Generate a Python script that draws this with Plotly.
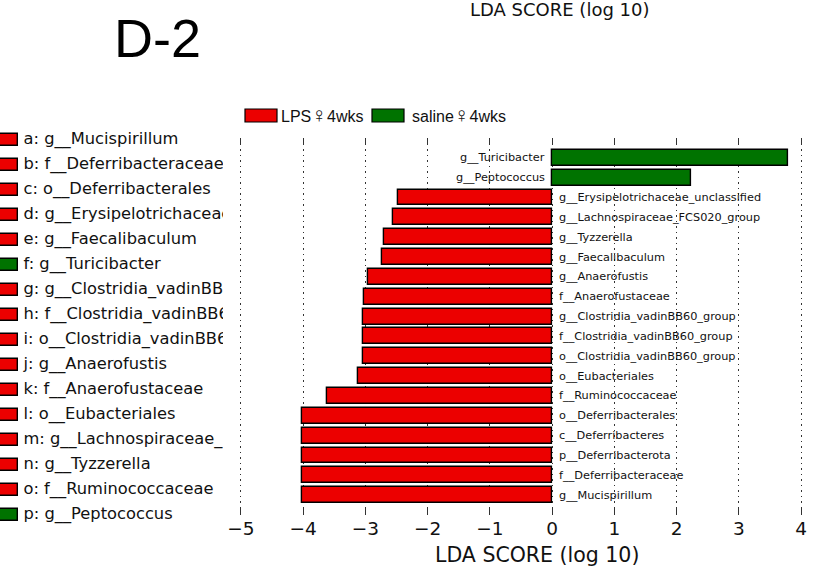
import plotly.graph_objects as go

# LEfSe results: features ordered top to bottom, LDA score (log 10)
features = [
    "g__Turicibacter", "g__Peptococcus", "g__Erysipelotrichaceae_unclassified",
    "g__Lachnospiraceae_FCS020_group", "g__Tyzzerella", "g__Faecalibaculum",
    "g__Anaerofustis", "f__Anaerofustaceae", "g__Clostridia_vadinBB60_group",
    "f__Clostridia_vadinBB60_group", "o__Clostridia_vadinBB60_group",
    "o__Eubacteriales", "f__Ruminococcaceae", "o__Deferribacterales",
    "c__Deferribacteres", "p__Deferribacterota", "f__Deferribacteraceae",
    "g__Mucispirillum",
]
lda_scores = [3.80, 2.23, -2.48, -2.56, -2.70, -2.73, -2.96, -3.02, -3.03,
              -3.03, -3.03, -3.11, -3.61, -4.02, -4.02, -4.02, -4.02, -4.02]

groups = ["LPS\u26404wks", "saline\u26404wks"]
group_colors = {"LPS\u26404wks": "#EC0000", "saline\u26404wks": "#007300"}

# cladogram key (letter labels)
key_letters = list("abcdefghijklmnop")
key_names = [
    "g__Mucispirillum", "f__Deferribacteraceae", "o__Deferribacterales",
    "g__Erysipelotrichaceae_unclassified", "g__Faecalibaculum", "g__Turicibacter",
    "g__Clostridia_vadinBB60_group", "f__Clostridia_vadinBB60_group",
    "o__Clostridia_vadinBB60_group", "g__Anaerofustis", "f__Anaerofustaceae",
    "o__Eubacteriales", "g__Lachnospiraceae_FCS020_group", "g__Tyzzerella",
    "f__Ruminococcaceae", "g__Peptococcus",
]
key_groups = ["LPS\u26404wks"] * 5 + ["saline\u26404wks"] + ["LPS\u26404wks"] * 9 + ["saline\u26404wks"]

xticks = [-5, -4, -3, -2, -1, 0, 1, 2, 3, 4]

W, H = 835, 568
mono = "DejaVu Sans"

def feat_group(v):
    return groups[1] if v > 0 else groups[0]

def legend_label(g):
    # enlarge the female sign so it sits at full cap height
    return g.replace("\u2640", "<span style='font-size:21px'>\u2640</span>")

bar_colors = [group_colors[feat_group(v)] for v in lda_scores]

fig = go.Figure()

fig.add_trace(go.Bar(
    x=lda_scores, y=features, orientation="h",
    marker=dict(color=bar_colors, line=dict(color="black", width=1.4)),
    width=0.8, showlegend=False, hoverinfo="x+y",
    xaxis="x", yaxis="y",
))

# feature labels next to the zero line
annotations = []
for name, v in zip(features, lda_scores):
    pos = v > 0
    annotations.append(dict(
        x=0, y=name, xref="x", yref="y", text=name, showarrow=False,
        xanchor="right" if pos else "left", xshift=-5 if pos else 5,
        yanchor="middle", font=dict(family=mono, size=11.3, color="#111"),
    ))

# cladogram key swatches and clipped labels
key_rows = list(range(len(key_letters)))
fig.add_trace(go.Bar(
    x=[28] * len(key_rows), base=[-10] * len(key_rows), y=key_rows, orientation="h",
    marker=dict(color=[group_colors[g] for g in key_groups],
                line=dict(color="black", width=1.4)),
    width=0.48, showlegend=False, hoverinfo="skip",
    xaxis="x2", yaxis="y2",
))
fig.add_trace(go.Scatter(
    x=[23.5] * len(key_rows), y=key_rows, mode="text",
    text=[f"{l}: {n}" for l, n in zip(key_letters, key_names)],
    textposition="middle right", cliponaxis=True,
    textfont=dict(family=mono, size=16.3, color="#111"),
    showlegend=False, hoverinfo="skip", xaxis="x2", yaxis="y2",
))

# group legend at the top
leg_y = 1 - 114.5 / H
legend_items = [(groups[0], 245, 277, 279), (groups[1], 372, 404, 410)]
shapes = []
for g, x0, x1, tx in legend_items:
    shapes.append(dict(type="rect", xref="paper", yref="paper",
                       x0=x0 / W, x1=x1 / W, y0=1 - 122 / H, y1=1 - 109 / H,
                       fillcolor=group_colors[g], line=dict(color="black", width=1.2)))
    annotations.append(dict(x=tx / W, y=leg_y, xref="paper", yref="paper",
                            text=legend_label(g), showarrow=False, xanchor="left",
                            yanchor="middle",
                            font=dict(family="Liberation Sans", size=16, color="#111")))

annotations += [
    dict(x=157 / W, y=1 - 38 / H, xref="paper", yref="paper", text="D-2",
         showarrow=False, xanchor="center", yanchor="middle",
         font=dict(family="Liberation Sans", size=54, color="black")),
    dict(x=559 / W, y=1 - 10 / H, xref="paper", yref="paper", text="LDA SCORE (log 10)",
         showarrow=False, xanchor="center", yanchor="middle",
         font=dict(family=mono, size=18, color="#111")),
    dict(x=537 / W, y=1 - 555 / H, xref="paper", yref="paper", text="LDA SCORE (log 10)",
         showarrow=False, xanchor="center", yanchor="middle",
         font=dict(family=mono, size=20.5, color="#111")),
]

fig.update_layout(
    width=W, height=H, margin=dict(l=0, r=0, t=0, b=0, pad=0, autoexpand=False),
    paper_bgcolor="white", plot_bgcolor="white",
    bargap=0,
    xaxis=dict(
        domain=[239.1 / W, 802.9 / W], range=[-5.03, 4.03],
        tickvals=xticks, ticks="inside", ticklen=7, tickwidth=1, tickcolor="#333",
        mirror="ticks", showline=False, zeroline=False, automargin=False,
        showgrid=True, gridcolor="#333", griddash="1.5px,4px", gridwidth=1,
        tickfont=dict(family=mono, size=18.5, color="#111"),
    ),
    yaxis=dict(
        domain=[1 - 515 / H, 1 - 138 / H], type="category",
        categoryorder="array", categoryarray=features, automargin=False,
        range=[len(features), -1.0], showticklabels=False, ticks="",
        showgrid=False, zeroline=False, showline=False,
    ),
    xaxis2=dict(domain=[0, 223 / W], range=[0, 223], visible=False, anchor="y2",
                automargin=False),
    yaxis2=dict(domain=[0, 1], range=[(H - 140) / 25, -140 / 25], visible=False,
                anchor="x2", automargin=False),
    shapes=shapes,
    annotations=annotations,
)

fig.write_html("out.html")
